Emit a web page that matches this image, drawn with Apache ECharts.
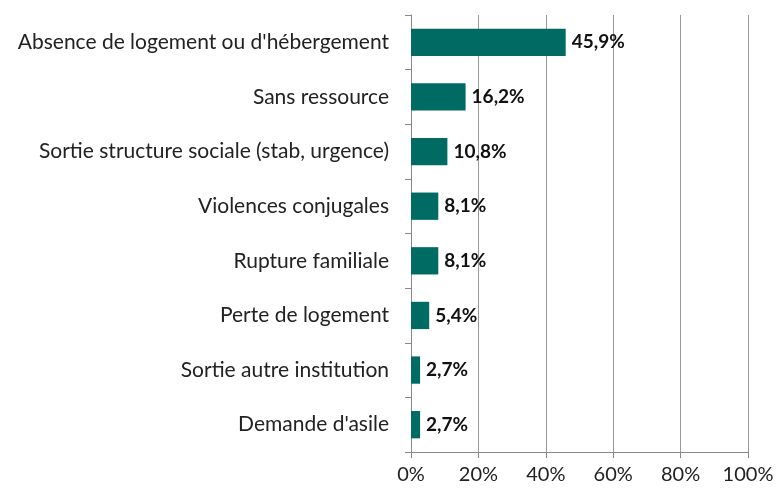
<!DOCTYPE html>
<html>
<head>
<meta charset="utf-8">
<script src="https://cdn.jsdelivr.net/npm/echarts@6/dist/echarts.min.js"></script>
<style>
  html, body { margin: 0; padding: 0; background: #fff; }
  #chart { width: 779px; height: 491px; }
</style>
</head>
<body>
<div id="chart"></div>
<script>
// categories listed bottom to top (category axis starts at bottom)
var categories = [
  "Demande d'asile",
  'Sortie autre institution',
  'Perte de logement',
  'Rupture familiale',
  'Violences conjugales',
  'Sortie structure sociale (stab, urgence)',
  'Sans ressource',
  "Absence de logement ou d'hébergement"
]
var values = [2.7, 2.7, 5.4, 8.1, 8.1, 10.8, 16.2, 45.9]
var tickMax = 100
var tickStep = 20

var chart = echarts.init(document.getElementById('chart'))
var font = 'Lato, "Open Sans", sans-serif'
var option = {
  animation: false,
  grid: {
    left: 411,
    right: 31,
    top: 15,
    bottom: 39
  },
  xAxis: {
    type: 'value',
    min: 0,
    max: tickMax,
    interval: tickStep,
    axisLine: { show: true, lineStyle: { color: '#888', width: 1 } },
    axisTick: { show: true, length: 6, lineStyle: { color: '#888' } },
    splitLine: { show: true, lineStyle: { color: '#999', width: 1 } },
    axisLabel: {
      color: '#222',
      fontFamily: font,
      fontSize: 20,
      margin: 13,
      formatter: '{value}%'
    }
  },
  yAxis: {
    type: 'category',
    data: categories,
    axisLine: { show: true, lineStyle: { color: '#888', width: 1 } },
    axisTick: { show: true, length: 6, lineStyle: { color: '#888' } },
    axisLabel: {
      color: '#222',
      fontFamily: font,
      fontSize: 21,
      margin: 22
    }
  },
  series: [
    {
      type: 'bar',
      data: values,
      barWidth: '50%',
      itemStyle: { color: '#006b63' },
      label: {
        show: true,
        position: 'right',
        distance: 6,
        color: '#111',
        fontFamily: font,
        fontWeight: 'bold',
        fontSize: 19,
        formatter: function (p) {
          return p.value.toFixed(1).replace('.', ',') + '%'
        }
      }
    }
  ]
}
chart.setOption(option)
</script>
</body>
</html>
